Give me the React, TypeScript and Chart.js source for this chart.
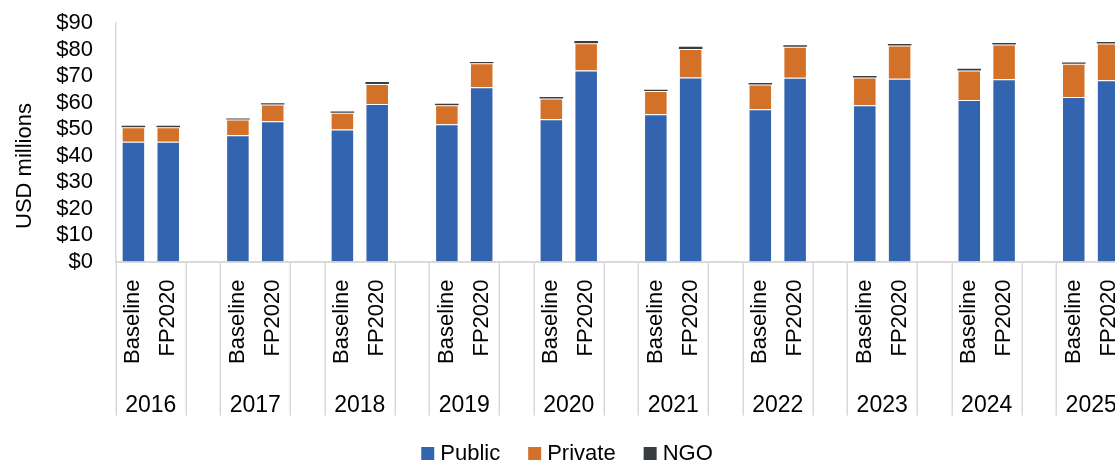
import React, { useEffect, useRef } from 'react';
import { Chart, registerables } from 'chart.js';

Chart.register(...registerables);

const years = ['2016', '2017', '2018', '2019', '2020', '2021', '2022', '2023', '2024', '2025'];
const scenarios = ['Baseline', 'FP2020'];

const publicBaseline = [45.2, 47.6, 49.8, 51.8, 53.7, 55.6, 57.5, 59.0, 60.9, 62.1];
const publicFP2020 = [45.2, 52.9, 59.4, 65.8, 72.1, 69.4, 69.3, 69.0, 68.8, 68.4];
const privateBaseline = [5.5, 6.0, 6.3, 7.2, 7.8, 8.7, 9.3, 10.4, 11.2, 12.5];
const privateFP2020 = [5.5, 6.3, 7.6, 9.0, 10.3, 10.8, 11.7, 12.5, 13.1, 13.9];
const ngoBaseline = [0.5, 0.4, 0.5, 0.5, 0.6, 0.5, 0.6, 0.6, 0.6, 0.5];
const ngoFP2020 = [0.5, 0.5, 0.7, 0.5, 0.8, 0.8, 0.6, 0.6, 0.6, 0.5];

const seriesNames = ['Public', 'Private', 'NGO'];
const seriesColors = ['#3264B0', '#D47128', '#383D42'];
const yTickValues = [0, 10, 20, 30, 40, 50, 60, 70, 80, 90];
const yTitle = 'USD millions';

const FONT = '"Liberation Sans", Arial, sans-serif';
const TEXT = '#000000';

// flat category list: Baseline, FP2020, (gap) per year
const categories: string[] = [];
const catYear: (number | null)[] = [];
function interleave(b: number[], f: number[]) {
  const out: (number | null)[] = [];
  years.forEach((_, i) => {
    out.push(b[i]);
    out.push(f[i]);
    if (i < years.length - 1) out.push(null);
  });
  return out;
}
years.forEach((_, i) => {
  categories.push(scenarios[0]);
  catYear.push(i);
  categories.push(scenarios[1]);
  catYear.push(i);
  if (i < years.length - 1) {
    categories.push('');
    catYear.push(null);
  }
});

const multiLevel = {
  id: 'multiLevel',
  afterDraw(chart: any) {
    const ctx = chart.ctx;
    const xs = chart.scales.x;
    const n = categories.length;
    const slot = (xs.right - xs.left) / n;
    const top = xs.top;
    ctx.save();
    // group separators
    ctx.strokeStyle = '#d9d9d9';
    ctx.lineWidth = 1.5;
    for (let i = 0; i <= n; i++) {
      if (i < n && categories[i] === scenarios[1]) continue;
      const x = Math.round(xs.left + i * slot) + 0.25;
      ctx.beginPath();
      ctx.moveTo(x, top);
      ctx.lineTo(x, top + 154);
      ctx.stroke();
    }
    // year labels
    ctx.fillStyle = TEXT;
    ctx.font = `23px ${FONT}`;
    ctx.textAlign = 'center';
    ctx.textBaseline = 'alphabetic';
    years.forEach((y, i) => {
      const b = categories.findIndex((c, k) => catYear[k] === i && c === scenarios[0]);
      const f = b + 1;
      const cx = (xs.getPixelForTick(b) + xs.getPixelForTick(f)) / 2;
      ctx.fillText(y, cx, top + 150);
    });
    // y title
    ctx.font = `22px ${FONT}`;
    ctx.save();
    ctx.translate(31, 166);
    ctx.rotate(-Math.PI / 2);
    ctx.textAlign = 'center';
    ctx.textBaseline = 'alphabetic';
    ctx.fillText(yTitle, 0, 0);
    ctx.restore();
    // legend
    const box = 13;
    const gapBox = 6;
    const gapItem = 28;
    const widths = seriesNames.map((s) => ctx.measureText(s).width);
    const total = widths.reduce((a, w) => a + box + gapBox + w, 0) + gapItem * (seriesNames.length - 1);
    let x = chart.width / 2 - total / 2 + 4;
    const base = 460;
    ctx.textAlign = 'left';
    seriesNames.forEach((s, i) => {
      ctx.fillStyle = seriesColors[i];
      ctx.fillRect(x, 447, box, box);
      ctx.fillStyle = TEXT;
      ctx.fillText(s, x + box + gapBox, base);
      x += box + gapBox + widths[i] + gapItem;
    });
    ctx.restore();
  },
};

export default function App() {
  const ref = useRef<HTMLCanvasElement>(null);
  useEffect(() => {
    if (!ref.current) return;
    const dataSets = [
      interleave(publicBaseline, publicFP2020),
      interleave(privateBaseline, privateFP2020),
      interleave(ngoBaseline, ngoFP2020),
    ];
    const chart = new Chart(ref.current, {
      type: 'bar',
      data: {
        labels: categories,
        datasets: seriesNames.map((name, i) => ({
          label: name,
          data: dataSets[i],
          backgroundColor: seriesColors[i],
          borderColor: i < 2 ? 'rgba(255,255,255,0.35)' : seriesColors[i],
          borderWidth: i < 2 ? 1 : 0,
          barPercentage: 0.675,
          categoryPercentage: 1,
        })),
      },
      options: {
        responsive: false,
        animation: false,
        layout: { padding: { top: 23, left: 0, right: 0, bottom: 0 } },
        plugins: {
          legend: { display: false },
          tooltip: { enabled: false },
        },
        scales: {
          x: {
            stacked: true,
            grid: { display: false, drawTicks: false, tickLength: 0 },
            border: { display: true, color: '#d9d9d9', width: 2 },
            ticks: {
              autoSkip: false,
              maxRotation: 90,
              minRotation: 90,
              padding: 18,
              color: TEXT,
              font: { family: FONT, size: 22 },
            },
            afterFit: (s: any) => {
              s.height = 199.5;
              s.paddingLeft = 0;
              s.paddingRight = 0;
            },
          },
          y: {
            stacked: true,
            min: 0,
            max: 90,
            afterBuildTicks: (s: any) => {
              s.ticks = yTickValues.map((v) => ({ value: v }));
            },
            grid: { display: false, drawTicks: false, tickLength: 0 },
            border: { display: true, color: '#d9d9d9', width: 1.5 },
            ticks: {
              autoSkip: false,
              padding: 23,
              color: TEXT,
              font: { family: FONT, size: 22 },
              callback: (v: any) => '$' + v,
            },
            afterFit: (s: any) => {
              s.width = 116;
              s.paddingTop = 0;
              s.paddingBottom = 0;
            },
          },
        },
      },
      plugins: [multiLevel],
    });
    return () => chart.destroy();
  }, []);
  return (
    <div style={{ position: 'absolute', left: 0, top: 0, width: 1115, height: 461, overflow: 'hidden', background: '#fff' }}>
      <canvas ref={ref} width={1126} height={461} style={{ display: 'block' }} />
    </div>
  );
}
